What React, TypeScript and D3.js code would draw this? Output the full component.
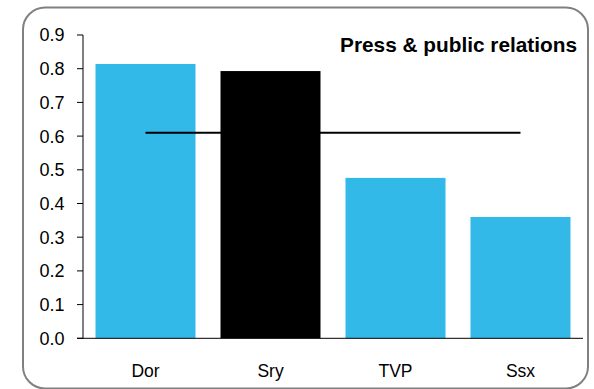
import React from "react";
import * as d3 from "d3";

const categories = ["Dor", "Sry", "TVP", "Ssx"];
const values = [0.814, 0.793, 0.476, 0.36];
const highlight = ["Sry"];
const averageValue = 0.61;
const yTicks = [0, 0.1, 0.2, 0.3, 0.4, 0.5, 0.6, 0.7, 0.8, 0.9];
const title = "Press & public relations";

export default function App() {
  const W = 594, H = 389;
  const left = 83, right = 583, top = 35, bottom = 338.3;
  const x = d3.scaleBand().domain(categories).range([left, right]).paddingInner(0.2).paddingOuter(0.1);
  const y = d3.scaleLinear().domain([0, 0.9]).range([bottom, top]);
  const font = "'Liberation Sans', Arial, sans-serif";
  const first = categories[0], last = categories[categories.length - 1];
  return (
    <svg width={W} height={H} style={{ position: "absolute", left: 0, top: 0 }} fontFamily={font}>
      <rect x={23} y={7.5} width={565} height={381} rx={22} ry={22} fill="#fff" stroke="#808080" strokeWidth={2} />
      {categories.map((c, i) => (
        <rect key={c} x={x(c)} y={y(values[i])} width={x.bandwidth()} height={y(0) - y(values[i])}
          fill={highlight.includes(c) ? "#000" : "#33B9E8"} />
      ))}
      <line x1={x(first)! + x.bandwidth() / 2} x2={x(last)! + x.bandwidth() / 2} y1={y(averageValue)} y2={y(averageValue)} stroke="#000" strokeWidth={2} />
      <line x1={left} x2={left} y1={top} y2={bottom} stroke="#000" strokeWidth={1} />
      <line x1={left - 6} x2={right} y1={bottom} y2={bottom} stroke="#000" strokeWidth={1} />
      {yTicks.map((t) => (
        <g key={t}>
          <line x1={left - 6} x2={left} y1={y(t)} y2={y(t)} stroke="#000" strokeWidth={1} />
          <text x={64.5} y={y(t)} dy="0.36em" textAnchor="end" fontSize={18} fill="#000">{t.toFixed(1)}</text>
        </g>
      ))}
      {categories.map((c) => (
        <text key={c} x={x(c)! + x.bandwidth() / 2} y={377} textAnchor="middle" fontSize={17.5} fill="#000">{c}</text>
      ))}
      <text x={577} y={51.5} textAnchor="end" fontSize={20.8} fontWeight="bold" fill="#000">{title}</text>
    </svg>
  );
}
